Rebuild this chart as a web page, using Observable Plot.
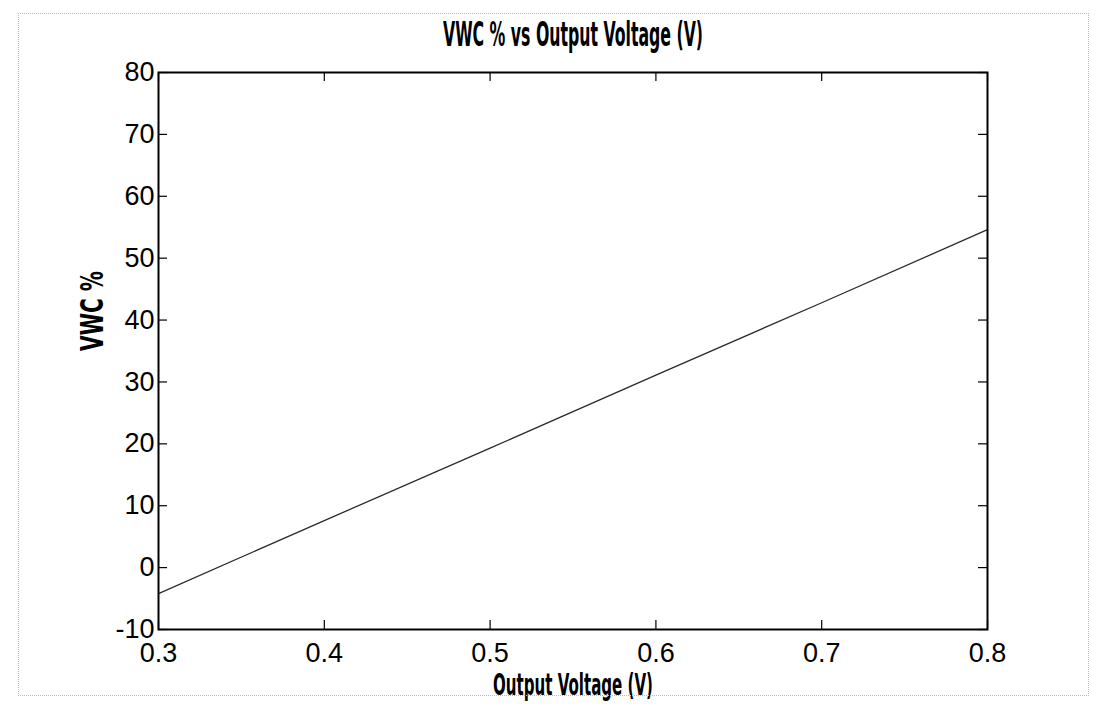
<!DOCTYPE html>
<html>
<head>
<meta charset="utf-8">
<script src="https://cdn.jsdelivr.net/npm/d3@7"></script>
<script src="https://cdn.jsdelivr.net/npm/@observablehq/plot@0.6"></script>
<style>
  html, body { margin: 0; padding: 0; background: #fff; }
  #wrap { position: relative; width: 1103px; height: 707px; overflow: hidden; }
  #scan { position: absolute; left: 18px; top: 13px; width: 1071px; height: 683px;
          border: 1px dotted #b8b8b8; box-sizing: border-box; pointer-events: none; }
</style>
</head>
<body>
<div id="wrap"><div id="scan"></div></div>
<script>
const titleText = "VWC % vs Output Voltage (V)";
const xLabelText = "Output Voltage (V)";
const yLabelText = "VWC %";

// readings from the picture
const voltage = [0.3, 0.4, 0.5, 0.6, 0.7, 0.8];
const vwc = [-4.2, 7.6, 19.3, 31.1, 42.8, 54.6];

const xTicks = [0.3, 0.4, 0.5, 0.6, 0.7, 0.8];
const yTicks = [-10, 0, 10, 20, 30, 40, 50, 60, 70, 80];

const data = voltage.map((v, i) => ({v, w: vwc[i]}));

const W = 1103, H = 707;
const mL = 158, mR = 116, mT = 72, mB = 78;
const innerW = W - mL - mR, innerH = H - mT - mB;
const tick = 9;
const tickFont = "'Liberation Sans', Arial, Helvetica, sans-serif";
const boldFont = "'Liberation Sans Narrow', 'DejaVu Sans Condensed', 'Liberation Sans', sans-serif";

const chart = Plot.plot({
  width: W, height: H,
  marginLeft: mL, marginRight: mR, marginTop: mT, marginBottom: mB,
  style: {background: "#fff", color: "#000", fontFamily: tickFont},
  x: {domain: [0.3, 0.8], ticks: xTicks, label: null},
  y: {domain: [-10, 80], ticks: yTicks, label: null},
  marks: [
    Plot.axisX({ticks: xTicks, tickSize: 0, tickPadding: 13, fontSize: 27, tickFormat: d => d.toFixed(1), label: null}),
    Plot.axisY({ticks: yTicks, tickSize: 0, tickPadding: 4, fontSize: 27, tickFormat: d => String(d), label: null}),
    // inward ticks on all four sides
    Plot.ruleX(xTicks, {x: d => d, insetTop: innerH - tick, stroke: "#000", strokeWidth: 1.2}),
    Plot.ruleX(xTicks, {x: d => d, insetBottom: innerH - tick, stroke: "#000", strokeWidth: 1.2}),
    Plot.ruleY(yTicks, {y: d => d, insetRight: innerW - tick, stroke: "#000", strokeWidth: 1.2}),
    Plot.ruleY(yTicks, {y: d => d, insetLeft: innerW - tick, stroke: "#000", strokeWidth: 1.2}),
    Plot.line(data, {x: "v", y: "w", stroke: "#2a2a2a", strokeWidth: 1.3}),
    Plot.frame({stroke: "#000", strokeWidth: 2}),
    Plot.text([titleText], {frameAnchor: "top", dy: -37, lineAnchor: "middle", fontSize: 33, fontWeight: "bold", fontFamily: boldFont, fill: "#000", className: "ttl"}),
    Plot.text([xLabelText], {frameAnchor: "bottom", dy: 56, lineAnchor: "middle", fontSize: 31, fontWeight: "bold", fontFamily: boldFont, fill: "#000", className: "xlab"}),
    Plot.text([yLabelText], {frameAnchor: "left", dx: -66, rotate: -90, lineAnchor: "middle", fontSize: 32, fontWeight: "bold", fontFamily: boldFont, fill: "#000", className: "ylab"})
  ]
});

document.getElementById("wrap").prepend(chart);

// compress the condensed bold labels to the reference widths
const fit = (cls, len) => {
  d3.select(chart).selectAll("g." + cls + " text")
    .attr("textLength", len).attr("lengthAdjust", "spacingAndGlyphs");
};
fit("ttl", 260);
fit("xlab", 160);
fit("ylab", 80);
</script>
</body>
</html>
